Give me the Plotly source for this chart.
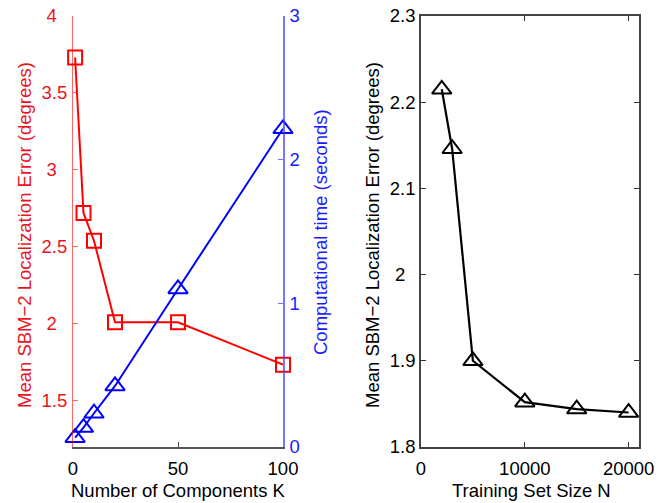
import plotly.graph_objects as go

# Left panel data
k_values = [1, 5, 10, 20, 50, 100]
loc_error_k = [3.73, 2.72, 2.54, 2.01, 2.01, 1.735]
comp_time = [0.065, 0.135, 0.235, 0.425, 1.10, 2.215]

# Right panel data
n_values = [2000, 3000, 5000, 10000, 15000, 20000]
loc_error_n = [2.215, 2.146, 1.900, 1.852, 1.844, 1.840]

# Tick labels
PAD = "\u00a0\u00a0"
left_y_ticks = [1.5, 2, 2.5, 3, 3.5, 4]
left_y_text = ["1.5", "2" + PAD, "2.5", "3" + PAD, "3.5", "4" + PAD]
right_y_ticks = [0, 1, 2, 3]
k_ticks = [0, 50, 100]
n_ticks = [0, 10000, 20000]
n_tick_text = ["0", "10000", "20000"]
err_ticks = [1.8, 1.9, 2.0, 2.1, 2.2, 2.3]
err_tick_text = ["1.8", "1.9", "2" + PAD, "2.1", "2.2", "2.3"]

# Titles
left_x_title = "Number of Components K"
right_x_title = "Training Set Size N"
err_title = "Mean SBM\u22122 Localization Error (degrees)"
time_title = "Computational time (seconds)"

FONT = "Liberation Sans, Arial, Helvetica, sans-serif"
FS = 18.5
RED = "#ff0000"
BLUE = "#0000ff"
RED_TXT = "#e8141c"
BLUE_TXT = "#1a1aff"

fig = go.Figure()

fig.add_trace(go.Scatter(
    x=k_values, y=loc_error_k, xaxis="x", yaxis="y", mode="lines+markers",
    line=dict(color=RED, width=2),
    marker=dict(symbol="square-open", size=14, color=RED, line=dict(width=2, color=RED)),
    showlegend=False, cliponaxis=False))

fig.add_trace(go.Scatter(
    x=k_values, y=comp_time, xaxis="x", yaxis="y2", mode="lines+markers",
    line=dict(color=BLUE, width=2),
    marker=dict(symbol="triangle-up-open", size=17, color=BLUE, line=dict(width=2, color=BLUE)),
    showlegend=False, cliponaxis=False))

fig.add_trace(go.Scatter(
    x=n_values, y=loc_error_n, xaxis="x2", yaxis="y3", mode="lines+markers",
    line=dict(color="black", width=2.2),
    marker=dict(symbol="triangle-up-open", size=17, color="black", line=dict(width=2, color="black")),
    showlegend=False, cliponaxis=False))

W, H = 671, 503
ml, mr, mt, mb = 73, 32, 16, 56
pw = W - ml - mr   # 566
ph = H - mt - mb   # 431
X0, Y0 = ml, mt    # page coords of plot area top-left


def px(xp):
    return (xp - X0) / pw


def py(yp):
    return 1 - (yp - Y0) / ph


left_end = px(283)
right_start = px(421)

fig.update_layout(
    width=W, height=H,
    margin=dict(l=ml, r=mr, t=mt, b=mb, pad=0, autoexpand=False),
    paper_bgcolor="white", plot_bgcolor="white",
    font=dict(family=FONT, size=FS, color="black"),
    xaxis=dict(
        domain=[0, left_end], range=[0, 100], anchor="y",
        tickvals=k_ticks, ticks="inside", ticklen=5, tickwidth=1, tickcolor="#444",
        showline=True, linecolor="#555", linewidth=1.5, mirror=False,
        showgrid=False, zeroline=False, ticklabelstandoff=4,
        ticklabeloverflow="allow",
        tickfont=dict(size=FS, color="black"),
    ),
    yaxis=dict(
        domain=[0, 1], range=[1.2, 4], anchor="x",
        tickvals=left_y_ticks, ticktext=left_y_text,
        ticks="inside", ticklen=5, tickwidth=1, tickcolor="rgba(255,0,0,0.6)",
        showline=True, linecolor="rgba(255,0,0,0.6)", linewidth=1.2,
        showgrid=False, zeroline=False, ticklabelstandoff=1,
        ticklabeloverflow="allow",
        tickfont=dict(size=FS, color=RED_TXT),
    ),
    yaxis2=dict(
        range=[0, 3], overlaying="y", side="right", anchor="x",
        tickvals=right_y_ticks, ticks="inside", ticklen=5, tickwidth=1,
        tickcolor="rgba(60,60,255,0.7)",
        showline=True, linecolor="rgba(60,60,255,0.7)", linewidth=1.5,
        showgrid=False, zeroline=False, ticklabelstandoff=1,
        ticklabeloverflow="allow",
        tickfont=dict(size=FS, color=BLUE_TXT),
    ),
    xaxis2=dict(
        domain=[right_start, 1], range=[0, 21000], anchor="y3",
        tickvals=n_ticks, ticktext=n_tick_text, ticks="inside", ticklen=5, tickwidth=1, tickcolor="#333",
        showline=True, linecolor="#444", linewidth=1.5, mirror="ticks",
        showgrid=False, zeroline=False, ticklabelstandoff=4,
        ticklabeloverflow="allow",
        tickfont=dict(size=FS, color="black"),
    ),
    yaxis3=dict(
        domain=[0, 1], range=[1.8, 2.3], anchor="x2",
        tickvals=err_ticks, ticktext=err_tick_text, ticks="inside", ticklen=5, tickwidth=1, tickcolor="#333",
        showline=True, linecolor="#444", linewidth=1.5, mirror="ticks",
        showgrid=False, zeroline=False, ticklabelstandoff=0,
        ticklabeloverflow="allow",
        tickfont=dict(size=FS, color="black"),
    ),
)

common = dict(xref="paper", yref="paper", showarrow=False, xanchor="center", yanchor="middle")
fig.add_annotation(text=left_x_title, x=px(178), y=py(490), font=dict(size=FS, color="black"), **common)
fig.add_annotation(text=right_x_title, x=px(531), y=py(490), font=dict(size=FS, color="black"), **common)
fig.add_annotation(text=err_title, x=px(25), y=py(235), textangle=-90, font=dict(size=FS, color=RED_TXT), **common)
fig.add_annotation(text=time_title, x=px(320), y=py(232), textangle=-90, font=dict(size=FS, color=BLUE_TXT), **common)
fig.add_annotation(text=err_title, x=px(373), y=py(235), textangle=-90, font=dict(size=FS, color="black"), **common)

# remove the browser's default 8px body margin so the figure fills the window exactly
fig.write_html("out.html", config={"displayModeBar": False},
               post_script="document.body.style.margin='0';")
